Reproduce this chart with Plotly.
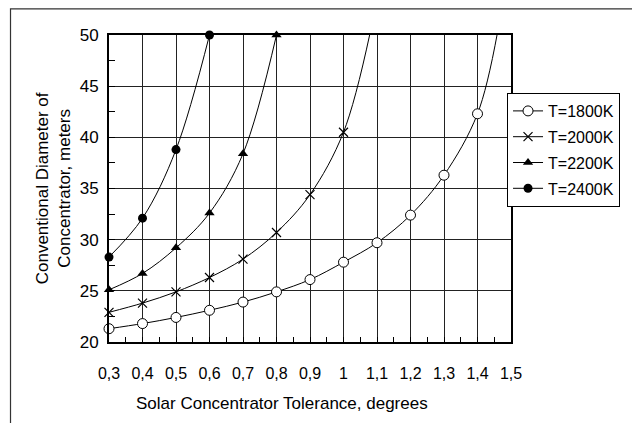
import plotly.graph_objects as go

# Solar concentrator tolerance (degrees) vs conventional concentrator diameter (m)
x_1800 = [0.3, 0.4, 0.5, 0.6, 0.7, 0.8, 0.9, 1.0, 1.1, 1.2, 1.3, 1.4]
y_1800 = [21.3, 21.8, 22.4, 23.1, 23.9, 24.9, 26.1, 27.8, 29.7, 32.4, 36.3, 42.3]
x_2000 = [0.3, 0.4, 0.5, 0.6, 0.7, 0.8, 0.9, 1.0]
y_2000 = [22.9, 23.8, 24.9, 26.3, 28.1, 30.7, 34.4, 40.5]
x_2200 = [0.3, 0.4, 0.5, 0.6, 0.7, 0.8]
y_2200 = [25.1, 26.7, 29.2, 32.6, 38.4, 50.0]
x_2400 = [0.3, 0.4, 0.5, 0.6]
y_2400 = [28.3, 32.1, 38.8, 50.0]

# smoothed curves run on a little past their last marked point
tail_1800 = (1.46, 50.3)
tail_2000 = (1.08, 50.3)

x_ticks = [0.3, 0.4, 0.5, 0.6, 0.7, 0.8, 0.9, 1.0, 1.1, 1.2, 1.3, 1.4, 1.5]
x_tick_text = ["0,3", "0,4", "0,5", "0,6", "0,7", "0,8", "0,9", "1",
               "1,1", "1,2", "1,3", "1,4", "1,5"]
y_ticks = [20, 25, 30, 35, 40, 45, 50]

FONT = "Liberation Sans, Arial, sans-serif"

fig = go.Figure()

series = [
    ("T=1800K", x_1800, y_1800, tail_1800,
     dict(symbol="circle", size=10, color="white", line=dict(color="black", width=1))),
    ("T=2000K", x_2000, y_2000, tail_2000,
     dict(symbol="x-thin", size=9, color="black", line=dict(color="black", width=1.2))),
    ("T=2200K", x_2200, y_2200, None,
     dict(symbol="triangle-up", size=9, color="black", line=dict(color="black", width=0))),
    ("T=2400K", x_2400, y_2400, None,
     dict(symbol="circle", size=9, color="black", line=dict(color="black", width=0))),
]

for name, xs, ys, tail, marker in series:
    lx = list(xs) + ([tail[0]] if tail else [])
    ly = list(ys) + ([tail[1]] if tail else [])
    # smooth curve through the points (plus its tail)
    fig.add_trace(go.Scatter(
        x=lx, y=ly, mode="lines", line=dict(color="black", width=1, shape="spline"),
        showlegend=False, hoverinfo="skip",
    ))
    # data point markers
    fig.add_trace(go.Scatter(
        x=xs, y=ys, mode="markers", name=name, showlegend=False,
        marker=marker, cliponaxis=False,
    ))
    # legend entry: line segment with the series marker
    fig.add_trace(go.Scatter(
        x=[None], y=[None], mode="lines+markers", name=name, legendgroup=name,
        line=dict(color="black", width=1), marker=marker,
    ))

# outer chart frame, running off the right and bottom edges
fig.add_shape(type="rect", xref="paper", yref="paper",
              x0=-0.245, x1=1.40, y0=-0.35, y1=1.085,
              line=dict(color="#333", width=1.2), fillcolor="rgba(0,0,0,0)", layer="below")
# legend drop shadow
fig.add_shape(type="rect", xref="paper", yref="paper",
              x0=(513 - 109) / 404, x1=(621 - 109) / 404,
              y0=(342 - 207) / 307, y1=(342 - 97) / 307,
              line=dict(width=0), fillcolor="black", layer="above")

fig.update_layout(
    width=632, height=423,
    margin=dict(l=109, r=119, t=35, b=81),
    paper_bgcolor="white", plot_bgcolor="white",
    font=dict(family=FONT, size=16, color="black"),
    showlegend=True,
    legend=dict(
        x=(509 - 109) / 404, y=(342 - 93) / 307, xanchor="left", yanchor="top",
        bgcolor="white", bordercolor="black", borderwidth=1,
        font=dict(family=FONT, size=16, color="black"),
        tracegroupgap=2, itemwidth=30,
    ),
    xaxis=dict(
        range=[0.3, 1.5], tickvals=x_ticks, ticktext=x_tick_text,
        showgrid=True, gridcolor="#222", gridwidth=1,
        showline=True, linecolor="black", linewidth=2, mirror=True,
        ticks="inside", ticklen=5, tickcolor="black",
        minor=dict(dtick=0.05, ticks="inside", ticklen=5, tickcolor="black", showgrid=False),
        tickfont=dict(size=16), ticklabelstandoff=16, zeroline=False,
    ),
    yaxis=dict(
        range=[20, 50], tickvals=y_ticks,
        showgrid=True, gridcolor="#222", gridwidth=1,
        showline=True, linecolor="black", linewidth=2, mirror=True,
        ticks="inside", ticklen=6, tickcolor="black",
        minor=dict(dtick=2.5, ticks="inside", ticklen=6, tickcolor="black", showgrid=False),
        tickfont=dict(size=17), ticklabelstandoff=5, zeroline=False,
    ),
)

fig.add_annotation(
    text="Conventional Diameter of<br>Concentrator, meters",
    xref="paper", yref="paper", x=(53 - 109) / 404, y=(342 - 188) / 307,
    xanchor="center", yanchor="middle",
    textangle=-90, showarrow=False, font=dict(size=17), align="center",
)
fig.add_annotation(
    text="Solar Concentrator Tolerance, degrees",
    xref="paper", yref="paper", x=(283 - 109) / 404, y=(342 - 403) / 307,
    xanchor="center", yanchor="middle",
    showarrow=False, font=dict(size=17),
)

fig.write_html("out.html")
